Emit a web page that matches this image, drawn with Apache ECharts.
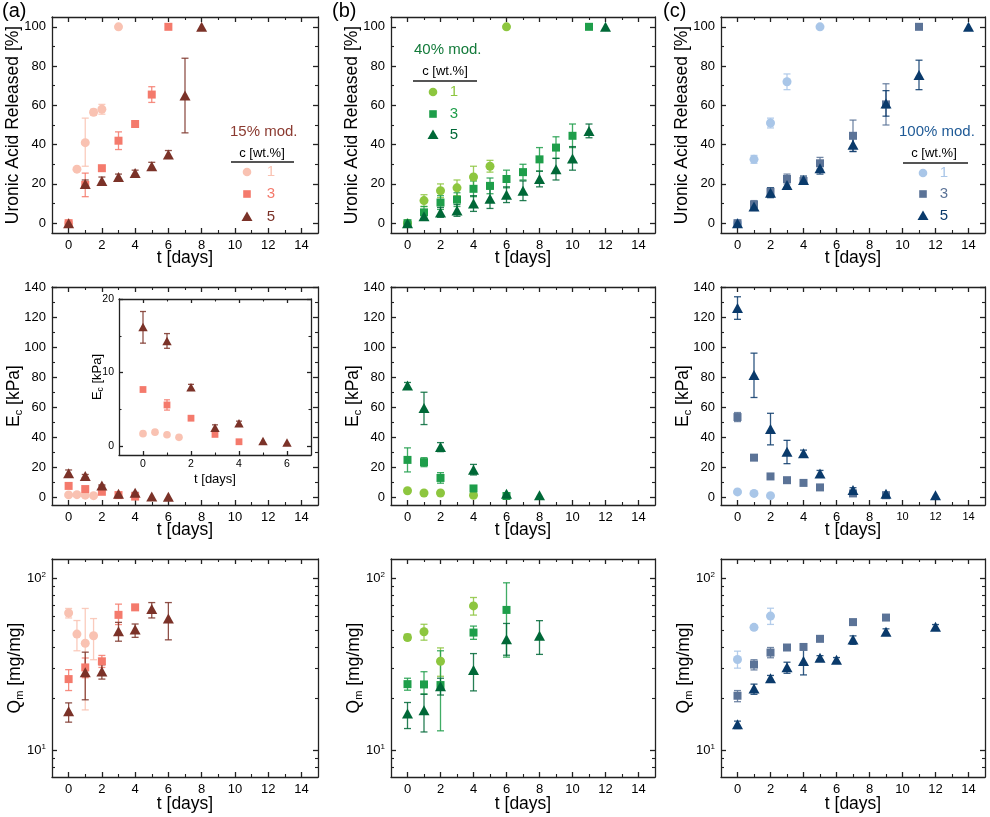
<!DOCTYPE html>
<html><head><meta charset="utf-8">
<script src="https://cdn.jsdelivr.net/npm/echarts@6/dist/echarts.min.js"></script>
<style>html,body{margin:0;padding:0;background:#fff}#c{width:990px;height:817px}</style>
</head><body><div id="c"></div>
<script>
// ---------- tick values ----------
const xMajor = [0,2,4,6,8,10,12,14];
const xMinor = [1,3,5,7,9,11,13];
const uaLabels = [0,20,40,60,80,100];
const uaMinor = [10,30,50,70,90];
const ecLabels = [0,20,40,60,80,100,120,140];
const ecMinor = [10,30,50,70,90,110,130];
const qmLabels = [10,100];
const qmMinor = [8,9,20,30,40,50,60,70,80,90];
const insetXLabels = [0,2,4,6];
const insetXMinor = [1,3,5];
const insetYLabels = [0,10,20];
const insetYMinor = [5,15];

// ---------- data: [t, value, errLow, errHigh] ----------
// Uronic acid released [%]
const ua15_c1 = [[0,0],[0.5,27.5],[1,41,29,53.5],[1.5,56.5,55,58],[2,58,55.5,60.5],[3,100]];
const ua15_c3 = [[0,0],[1,19.5,13.5,25.5],[2,28],[3,42,37.5,46.5],[4,50.5],[5,65.5,61.5,69.5],[6,100]];
const ua15_c5 = [[0,0],[1,20,18,22],[2,21.5,19.5,23.5],[3,23.5,22,25],[4,25.5,24,27],[5,29,27,31],[6,35,33,37],[7,65,46,84],[8,100]];
const ua40_c1 = [[0,0],[1,11.5,8.5,14.5],[2,16.5,13,20],[3,18,14,22],[4,23.5,18,29],[5,29,26,32],[6,100]];
const ua40_c3 = [[0,0],[1,5.5,2.5,8.5],[2,10.5,7,14],[3,12,8.5,15.5],[4,17.5,13.5,21.5],[5,19,15,23],[6,22.5,18,27],[7,26,22,30],[8,32.5,26.5,38.5],[9,38.5,33,44],[10,44.5,38.5,50.5],[11,100]];
const ua40_c5 = [[0,0],[1,3.5,2,5],[2,5.5,3,8],[3,6.5,3.5,9.5],[4,10,6,14],[5,12.5,7.5,17.5],[6,14.5,10.5,18.5],[7,16.5,11.5,21.5],[8,22.5,18.5,26.5],[9,27.5,22,33],[10,33,27,39],[11,47,43.5,50.5],[12,100]];
const ua100_c1 = [[0,0],[1,32.5,30.5,34.5],[2,51,48.5,53.5],[3,72,68,76],[5,100]];
const ua100_c3 = [[0,0],[1,9.5,7.5,11.5],[2,16,14,18],[3,22.5,20,25],[4,21.5,20,23],[5,30.5,27.5,33.5],[7,44.5,36.5,52.5],[9,60.5,50,71],[11,100]];
const ua100_c5 = [[0,0],[1,8.5,6.5,10.5],[2,15.5,13,18],[3,19.5,17.5,21.5],[4,22,20,24],[5,28,25,31],[7,40,36.5,43.5],[9,61,54.5,67.5],[11,75.5,68,83],[14,100]];
// Ec [kPa]
const ec15_c1 = [[0,1.7],[0.5,1.9],[1,1.55],[1.5,1.2]];
const ec15_c3 = [[0,7.7],[1,5.6,4.9,6.3],[2,3.8],[3,1.6],[4,0.6]];
const ec15_c5 = [[0,16.2,14,18.3],[1,14.3,13.3,15.3],[2,8,7.6,8.4],[3,2.5,2.1,2.9],[4,3.1,2.8,3.4],[5,0.7],[6,0.5]];
const ec40_c1 = [[0,4.5],[1,3],[2,3],[4,1.5]];
const ec40_c3 = [[0,25,17,33],[1,23.5,20.5,26.5],[2,13,9.5,16.5],[4,6,5,7],[6,1]];
const ec40_c5 = [[0,74.5,72.5,76.5],[1,59.5,48.5,70],[2,33.5,30.5,36.5],[4,18.5,15,22],[6,2.5],[8,1.5]];
const ec100_c1 = [[0,3.7],[1,2.7],[2,1.2]];
const ec100_c3 = [[0,53.5,50.5,56.5],[1,26.5,25,28],[2,14,13,15],[3,11.5],[4,9.7],[5,6.7],[7,2.7],[9,1.5]];
const ec100_c5 = [[0,126,118.5,133.5],[1,81.5,66.5,96],[2,45.5,35,56],[3,30.5,22.5,38],[4,29.5,27.5,31.5],[5,16,14,18],[7,5,3.5,6.5],[9,2.5,1.5,3.5],[12,1.5]];
// Qm [mg/mg]
const qm15_c1 = [[0,63,59,67],[0.5,47.5,38,57],[1,42,17.2,67],[1.5,46.5,33.7,58.5]];
const qm15_c3 = [[0,26,22.3,29.5],[1,30.4,26.5,34.5],[2,33,30.4,35.7],[3,61.5,54,71],[4,68]];
const qm15_c5 = [[0,16.9,14.6,18.9],[1,28.5,19.7,37.3],[2,28.8,26,31.5],[3,49.3,43.2,55.6],[4,50.5,45.5,54.4],[5,66.5,59,72.5],[6,58.5,44,72.5]];
const qm40_c1 = [[0,45.4,43.8,47.4],[1,49,43.8,54.2],[2,33,27,39.5],[4,69.3,61.3,77.6]];
const qm40_c3 = [[0,24.3,22.4,26.3],[1,24.2,21.3,28.7],[2,24,13,38],[4,48.5,44.3,52.9],[6,65.7,34.9,94.5]];
const qm40_c5 = [[0,16.4,13.4,19],[1,17.1,12.8,21.2],[2,23.6,21,26.3],[4,29.4,22.2,36.6],[6,44.3,35.8,54.8],[8,46.4,36.2,56.9]];
const qm100_c1 = [[0,33.8,30.1,37.8],[1,52,50.5,53.2],[2,60.5,54.1,67.2]];
const qm100_c3 = [[0,20.8,19.2,22.3],[1,31.6,29.4,33.7],[2,37.1,34.6,39.7],[3,39.7,38.7,40.7],[4,40],[5,44.6],[7,55.8],[9,59.3,57.8,60.8]];
const qm100_c5 = [[0,14.2,13.4,14.8],[1,22.9,21.2,24.3],[2,26.3,25.3,27.3],[3,30.5,28.1,32.6],[4,33.1,27.5,40],[5,34.6,33.6,35.6],[6,33.7,32.7,34.7],[7,44.2,41.4,46.4],[9,49,47,51],[12,52.5,51,54]];

const concLabels = ['1','3','5'];
const modLabels = ['15% mod.','40% mod.','100% mod.'];
const panelLetters = ['(a)','(b)','(c)'];
const colors15 = ['#F9C2B2','#F47A6C','#7B3228'];
const colors40 = ['#8DC63F','#1E9E4A','#006837'];
const colors100 = ['#A9C6E8','#5B7397','#0A3A6B'];
const modColors = ['#8B3A30','#137A3A','#1F5A96'];

// ---------- assembly ----------
const FONT = 'Arial, "Liberation Sans", sans-serif';
const LINE = '#222';
const palette = [colors15, colors40, colors100];
const panelData = [
  [[ua15_c1,ua15_c3,ua15_c5],[ua40_c1,ua40_c3,ua40_c5],[ua100_c1,ua100_c3,ua100_c5]],
  [[ec15_c1,ec15_c3,ec15_c5],[ec40_c1,ec40_c3,ec40_c5],[ec100_c1,ec100_c3,ec100_c5]],
  [[qm15_c1,qm15_c3,qm15_c5],[qm40_c1,qm40_c3,qm40_c5],[qm100_c1,qm100_c3,qm100_c5]]
];
const symbols = ['circle','rect','triangle'];
const symSizes = [9, 8, [11,10]];
const COLS = [[52,266],[391,264],[721,264]];
const ROWS = [[17,216],[287,218],[559,218]];

const grids = [], xAxes = [], yAxes = [], series = [];

const nameRich = {
  n: {fontSize: 17.5, fontFamily: FONT, color: '#000', lineHeight: 20},
  s: {fontSize: 11, fontFamily: FONT, color: '#000', lineHeight: 11, verticalAlign: 'bottom'}
};
const nameRichSmall = {
  n: {fontSize: 13, fontFamily: FONT, color: '#000', lineHeight: 16},
  s: {fontSize: 8.5, fontFamily: FONT, color: '#000', lineHeight: 8, verticalAlign: 'bottom'}
};

function axisBase(g, pos, cfg) {
  return {gridIndex: g, type: cfg.type || 'value', position: pos, min: cfg.min, max: cfg.max,
    splitLine: {show: false}, splitArea: {show: false}};
}
function addAxes(kind, g, cfg) {
  const list = kind === 'x' ? xAxes : yAxes;
  const sides = kind === 'x' ? ['bottom','top'] : ['left','right'];
  let primary = -1;
  sides.forEach((pos, si) => {
    const a = axisBase(g, pos, cfg);
    a.axisLine = {show: true, onZero: false, lineStyle: {color: LINE, width: 1.3}};
    a.axisTick = {show: true, inside: true, length: cfg.tl || 5, customValues: cfg.major, lineStyle: {color: LINE, width: 1.3}};
    if (si === 0) {
      const lab = {show: true, customValues: cfg.labels, margin: cfg.margin || 6, color: '#000',
        fontSize: cfg.fs || 13, fontFamily: FONT};
      if (cfg.formatter) lab.formatter = cfg.formatter;
      if (cfg.rich) lab.rich = cfg.rich;
      a.axisLabel = lab;
      a.name = cfg.name;
      a.nameLocation = 'middle';
      a.nameGap = cfg.nameGap;
      a.nameMoveOverlap = false;
      a.nameTextStyle = {fontSize: cfg.nfs || 17, fontFamily: FONT, color: '#000', rich: cfg.nrich || nameRich};
      primary = list.length;
    } else {
      a.axisLabel = {show: false};
    }
    list.push(a);
    if (cfg.minor) {
      const m = axisBase(g, pos, cfg);
      m.axisLine = {show: false, onZero: false};
      m.axisTick = {show: true, inside: true, length: cfg.mtl || 3, customValues: cfg.minor, lineStyle: {color: LINE, width: 1.1}};
      m.axisLabel = {show: false};
      list.push(m);
    }
  });
  return primary;
}

function errBar(color, w) {
  return function (params, api) {
    const x = api.value(0), lo = api.value(2), hi = api.value(3);
    const a = api.coord([x, lo]), b = api.coord([x, hi]);
    return {type: 'group', children: [
      {type: 'line', shape: {x1: a[0], y1: a[1], x2: b[0], y2: b[1]}, style: {stroke: color, lineWidth: 1.3, opacity: 0.85}},
      {type: 'line', shape: {x1: a[0]-w, y1: a[1], x2: a[0]+w, y2: a[1]}, style: {stroke: color, lineWidth: 1.3, opacity: 0.85}},
      {type: 'line', shape: {x1: b[0]-w, y1: b[1], x2: b[0]+w, y2: b[1]}, style: {stroke: color, lineWidth: 1.3, opacity: 0.85}}
    ]};
  };
}

function addSeries(xi, yi, sets, cols, scale) {
  sets.forEach((arr, k) => {
    series.push({type: 'custom', xAxisIndex: xi, yAxisIndex: yi, renderItem: errBar(cols[k], 3.5*scale),
      data: arr.filter(d => d[2] != null).map(d => [d[0], d[1], d[2], d[3]]),
      encode: {x: 0, y: 1}, z: 2, silent: true, clip: false});
  });
  sets.forEach((arr, k) => {
    const s = symSizes[k];
    series.push({type: 'scatter', xAxisIndex: xi, yAxisIndex: yi, symbol: symbols[k],
      symbolSize: Array.isArray(s) ? s.map(v => v*scale) : s*scale,
      itemStyle: {color: cols[k], opacity: 1}, data: arr.map(d => [d[0], d[1]]), z: 3, silent: true});
  });
}

const supFmt = v => '{b|10}{s|' + Math.round(Math.log10(v)) + '}';
const supRich = {
  b: {fontSize: 13, fontFamily: FONT, color: '#000', lineHeight: 16},
  s: {fontSize: 8, fontFamily: FONT, color: '#000', lineHeight: 8, verticalAlign: 'top'}
};
const smallRich = {sm: {fontSize: 11, fontFamily: FONT, color: '#000'}};

const yCfgs = [
  {min: -5, max: 105, labels: uaLabels, major: uaLabels, minor: uaMinor, name: '{n|Uronic Acid Released [%]}', nameGap: 29},
  {min: -5, max: 140, labels: ecLabels, major: ecLabels, minor: ecMinor, name: '{n|E}{s|c}{n| [kPa]}', nameGap: 28},
  {type: 'log', min: 7, max: 130, labels: qmLabels, major: qmLabels, minor: qmMinor, name: '{n|Q}{s|m}{n| [mg/mg]}', nameGap: 27,
   formatter: supFmt, rich: supRich}
];
const xNameGaps = [15, 15, 17];

for (let r = 0; r < 3; r++) {
  for (let c = 0; c < 3; c++) {
    const g = grids.length;
    grids.push({left: COLS[c][0], width: COLS[c][1], top: ROWS[r][0], height: ROWS[r][1], outerBoundsMode: 'none', containLabel: false});
    const xcfg = {min: -1, max: 15, labels: xMajor, major: xMajor, minor: xMinor, name: '{n|t [days]}', nameGap: xNameGaps[r]};
    if (r === 1 && c === 2) {
      xcfg.formatter = v => v >= 10 ? '{sm|' + v + '}' : '' + v;
      xcfg.rich = smallRich;
    }
    const xi = addAxes('x', g, xcfg);
    const yi = addAxes('y', g, Object.assign({}, yCfgs[r]));
    addSeries(xi, yi, panelData[r][c], palette[c], 1);
  }
}

// inset in panel (a), middle row
{
  const g = grids.length;
  grids.push({left: 119, top: 299, width: 192, height: 156, outerBoundsMode: 'none', containLabel: false,
    show: true, backgroundColor: '#fff', borderWidth: 0, z: 5});
  const xi = addAxes('x', g, {min: -1, max: 7, labels: insetXLabels, major: insetXLabels, minor: insetXMinor,
    fs: 10.5, margin: 4, tl: 4, mtl: 2.5, name: '{n|t [days]}', nameGap: 16, nrich: nameRichSmall});
  const yi = addAxes('y', g, {min: -1.2, max: 20, labels: insetYLabels, major: insetYLabels, minor: insetYMinor,
    fs: 10.5, margin: 5, tl: 4, mtl: 2.5, name: '{n|E}{s|c}{n| [kPa]}', nameGap: 14, nrich: nameRichSmall});
  addSeries(xi, yi, panelData[1][0], palette[0], 0.85);
}
// put inset axes above
xAxes.forEach(a => { if (a.gridIndex === 9) a.z = 6; });
yAxes.forEach(a => { if (a.gridIndex === 9) a.z = 6; });
series.forEach(s => { if (s.xAxisIndex >= 0 && xAxes[s.xAxisIndex].gridIndex === 9) s.z += 5; });

// ---------- graphics: panel letters and legends ----------
const graphics = [];
[[2, 1], [332, 1], [663, 1]].forEach((p, i) => {
  graphics.push({type: 'text', x: p[0], y: p[1], style: {text: panelLetters[i], fill: '#000', font: '20px ' + FONT}});
});
const legendPos = [
  {tx: 230, ty: 132, cx: 262, cy: 153, ly: 162, l1: 231, l2: 294, mx: 247, nx: 271, rows: [172, 194, 217]},
  {tx: 414, ty: 50, cx: 445, cy: 71, ly: 81, l1: 413, l2: 477, mx: 433, nx: 454, rows: [92, 114, 135]},
  {tx: 899, ty: 132, cx: 934, cy: 153, ly: 163, l1: 903, l2: 968, mx: 923, nx: 944, rows: [173, 194, 216]}
];
legendPos.forEach((L, i) => {
  graphics.push({type: 'text', x: L.tx, y: L.ty, style: {text: modLabels[i], fill: modColors[i], font: '15px ' + FONT, align: 'left', verticalAlign: 'middle'}});
  graphics.push({type: 'text', x: L.cx, y: L.cy, style: {text: 'c [wt.%]', fill: '#000', font: '13px ' + FONT, align: 'center', verticalAlign: 'middle'}});
  graphics.push({type: 'line', shape: {x1: L.l1, y1: L.ly, x2: L.l2, y2: L.ly}, style: {stroke: '#555', lineWidth: 1.8}});
  L.rows.forEach((y, k) => {
    const col = palette[i][k];
    if (k === 0) graphics.push({type: 'circle', shape: {cx: L.mx, cy: y, r: 4.3}, style: {fill: col}});
    if (k === 1) graphics.push({type: 'rect', shape: {x: L.mx - 3.8, y: y - 3.8, width: 7.6, height: 7.6}, style: {fill: col}});
    if (k === 2) graphics.push({type: 'polygon', shape: {points: [[L.mx, y - 5.5], [L.mx + 5.5, y + 4], [L.mx - 5.5, y + 4]]}, style: {fill: col}});
    graphics.push({type: 'text', x: L.nx, y: y, style: {text: concLabels[k], fill: col, font: '15px ' + FONT, align: 'center', verticalAlign: 'middle'}});
  });
});

const chart = echarts.init(document.getElementById('c'), null, {renderer: 'canvas'});
chart.setOption({
  animation: false,
  backgroundColor: '#fff',
  textStyle: {fontFamily: FONT},
  grid: grids, xAxis: xAxes, yAxis: yAxes, series: series,
  graphic: {elements: graphics}
});
</script></body></html>
